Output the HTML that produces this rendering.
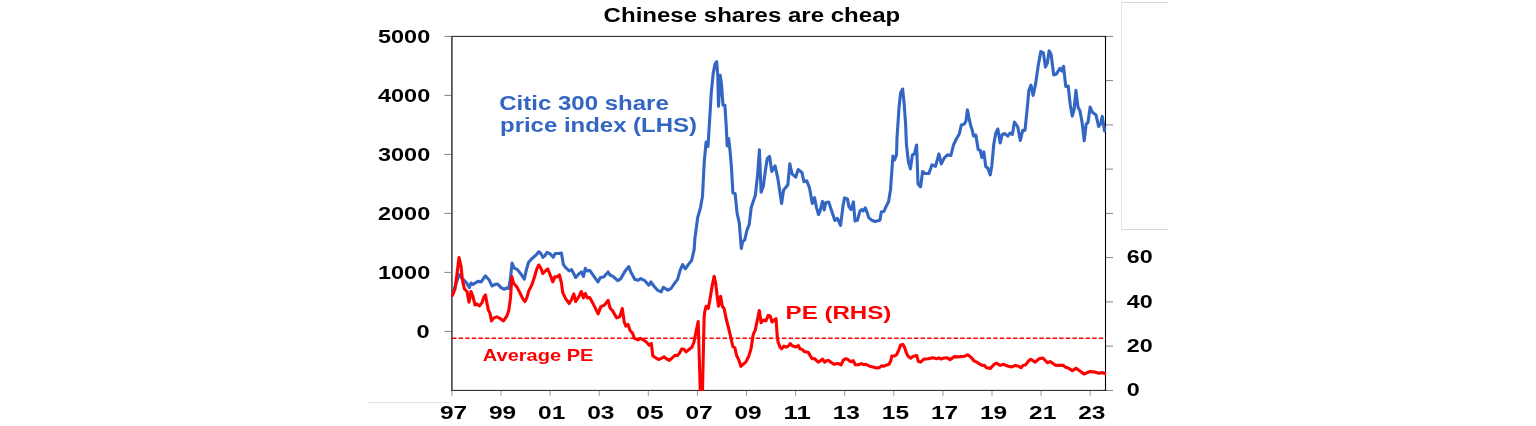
<!DOCTYPE html>
<html><head><meta charset="utf-8"><title>Chinese shares are cheap</title>
<style>
html,body{margin:0;padding:0;background:#fff;}
svg{display:block}
text{font-family:"Liberation Sans",Arial,sans-serif;font-weight:bold;}
</style></head><body>
<svg width="1536" height="426" viewBox="0 0 1536 426">
<rect width="1536" height="426" fill="#fff"/>
<g fill="none" stroke-width="1">
<path d="M1121.5 2.5V229.5" stroke="#e6e6e6"/>
<path d="M1121.5 2.5H1168M1121.5 229.5H1168" stroke="#d8d8d8"/>
<path d="M368 402.5H450" stroke="#e4e4e4"/>
</g>
<g stroke="#858585" stroke-width="1"><line x1="444.4" x2="452" y1="36.4" y2="36.4"/><line x1="444.4" x2="452" y1="95.4" y2="95.4"/><line x1="444.4" x2="452" y1="154.4" y2="154.4"/><line x1="444.4" x2="452" y1="213.4" y2="213.4"/><line x1="444.4" x2="452" y1="272.4" y2="272.4"/><line x1="444.4" x2="452" y1="331.4" y2="331.4"/><line x1="1106" x2="1113" y1="390.4" y2="390.4"/><line x1="1106" x2="1113" y1="346.1" y2="346.1"/><line x1="1106" x2="1113" y1="301.9" y2="301.9"/><line x1="1106" x2="1113" y1="257.6" y2="257.6"/><line x1="1106" x2="1113" y1="213.4" y2="213.4"/><line x1="1106" x2="1113" y1="169.1" y2="169.1"/><line x1="1106" x2="1113" y1="124.9" y2="124.9"/><line x1="1106" x2="1113" y1="80.6" y2="80.6"/><line x1="1106" x2="1113" y1="36.4" y2="36.4"/></g><g stroke="#9a9a9a" stroke-width="1"><line y1="390.8" y2="396.2" x1="451.9" x2="451.9"/><line y1="390.8" y2="396.2" x1="501.0" x2="501.0"/><line y1="390.8" y2="396.2" x1="550.1" x2="550.1"/><line y1="390.8" y2="396.2" x1="599.2" x2="599.2"/><line y1="390.8" y2="396.2" x1="648.3" x2="648.3"/><line y1="390.8" y2="396.2" x1="697.4" x2="697.4"/><line y1="390.8" y2="396.2" x1="746.5" x2="746.5"/><line y1="390.8" y2="396.2" x1="795.6" x2="795.6"/><line y1="390.8" y2="396.2" x1="844.7" x2="844.7"/><line y1="390.8" y2="396.2" x1="893.8" x2="893.8"/><line y1="390.8" y2="396.2" x1="942.9" x2="942.9"/><line y1="390.8" y2="396.2" x1="992.0" x2="992.0"/><line y1="390.8" y2="396.2" x1="1041.1" x2="1041.1"/><line y1="390.8" y2="396.2" x1="1090.2" x2="1090.2"/></g>
<g fill="none" stroke="#000"><path d="M451.2 36.4H1106" stroke-width="0.9"/><path d="M451.2 390.4H1106" stroke-width="0.9"/><path d="M1105.5 36V390.8" stroke-width="1.1"/><path d="M451.9 36V390.8" stroke="#444" stroke-width="1.6"/></g>
<g font-size="17.8" fill="#000"><text x="378.0" y="42.5" textLength="52.2" lengthAdjust="spacingAndGlyphs">5000</text><text x="378.0" y="101.5" textLength="52.2" lengthAdjust="spacingAndGlyphs">4000</text><text x="378.0" y="160.5" textLength="52.2" lengthAdjust="spacingAndGlyphs">3000</text><text x="378.0" y="219.5" textLength="52.2" lengthAdjust="spacingAndGlyphs">2000</text><text x="378.0" y="278.5" textLength="52.2" lengthAdjust="spacingAndGlyphs">1000</text><text x="416.6" y="337.5" textLength="13.1" lengthAdjust="spacingAndGlyphs">0</text><text x="439.9" y="418.8" textLength="27.2" lengthAdjust="spacingAndGlyphs">97</text><text x="489.0" y="418.8" textLength="27.2" lengthAdjust="spacingAndGlyphs">99</text><text x="538.1" y="418.8" textLength="27.2" lengthAdjust="spacingAndGlyphs">01</text><text x="587.2" y="418.8" textLength="27.2" lengthAdjust="spacingAndGlyphs">03</text><text x="636.3" y="418.8" textLength="27.2" lengthAdjust="spacingAndGlyphs">05</text><text x="685.4" y="418.8" textLength="27.2" lengthAdjust="spacingAndGlyphs">07</text><text x="734.5" y="418.8" textLength="27.2" lengthAdjust="spacingAndGlyphs">09</text><text x="783.6" y="418.8" textLength="27.2" lengthAdjust="spacingAndGlyphs">11</text><text x="832.7" y="418.8" textLength="27.2" lengthAdjust="spacingAndGlyphs">13</text><text x="881.8" y="418.8" textLength="27.2" lengthAdjust="spacingAndGlyphs">15</text><text x="930.9" y="418.8" textLength="27.2" lengthAdjust="spacingAndGlyphs">17</text><text x="980.0" y="418.8" textLength="27.2" lengthAdjust="spacingAndGlyphs">19</text><text x="1029.1" y="418.8" textLength="27.2" lengthAdjust="spacingAndGlyphs">21</text><text x="1078.2" y="418.8" textLength="27.2" lengthAdjust="spacingAndGlyphs">23</text><text x="1126.7" y="263.3" textLength="25.9" lengthAdjust="spacingAndGlyphs">60</text><text x="1126.7" y="307.6" textLength="25.9" lengthAdjust="spacingAndGlyphs">40</text><text x="1126.7" y="351.8" textLength="25.9" lengthAdjust="spacingAndGlyphs">20</text><text x="1126.7" y="396.1" textLength="13" lengthAdjust="spacingAndGlyphs">0</text></g>
<text x="603.6" y="21.5" font-size="19.4" textLength="296.6" lengthAdjust="spacingAndGlyphs">Chinese shares are cheap</text>
<clipPath id="c"><rect x="451" y="36" width="655" height="354.9"/></clipPath>
<line x1="452" x2="1106" y1="338.2" y2="338.2" stroke="#f00" stroke-width="1.4" stroke-dasharray="4.4 2.2"/>
<g clip-path="url(#c)" fill="none" stroke-linejoin="round" stroke-linecap="round">
<polyline stroke="#3366c2" stroke-width="3.1" points="452.5,294.2 455.8,284.4 459.0,274.5 462.3,278.6 466.4,282.7 469.4,287.6 471.0,283.0 473.0,284.4 477.9,281.4 481.2,281.9 485.3,275.8 489.4,280.3 491.9,286.0 495.2,284.4 497.7,284.0 501.0,287.6 504.2,289.3 506.7,288.0 508.8,288.6 510.5,277.8 512.1,263.0 514.1,267.9 517.4,269.6 520.7,273.7 524.3,279.1 526.4,269.6 528.6,262.2 532.2,258.4 536.3,254.8 538.8,251.8 540.9,253.5 542.9,257.3 545.0,255.6 547.0,252.3 550.3,254.0 553.2,257.3 555.2,253.5 558.5,253.5 561.4,253.1 563.4,264.6 565.9,267.9 569.2,270.9 571.6,269.6 575.7,277.5 579.0,273.7 581.5,272.0 583.5,276.5 585.3,268.3 587.2,270.9 589.7,270.4 593.8,276.1 597.9,281.9 600.4,277.5 603.7,277.0 608.1,272.0 610.3,275.3 612.7,276.1 617.7,280.7 620.9,278.6 625.0,271.2 628.8,266.6 630.8,272.0 634.9,279.4 638.2,280.3 640.7,278.6 644.8,280.7 648.9,285.2 650.9,281.9 653.8,286.0 657.4,290.1 661.2,291.8 663.3,287.3 667.8,290.1 671.1,288.5 674.4,283.5 677.6,279.4 680.1,270.4 682.6,264.6 685.4,268.8 688.3,264.6 691.6,260.5 694.1,249.9 694.9,238.6 697.7,217.5 700.5,207.6 702.5,196.3 704.2,162.5 706.1,142.0 708.0,146.5 709.6,120.4 711.3,92.3 713.2,73.5 715.0,64.1 716.7,61.7 717.8,75.8 718.5,106.3 720.2,75.4 721.6,85.2 723.0,105.2 724.9,105.2 726.3,127.5 727.2,146.0 728.6,138.5 730.1,151.3 731.5,168.2 732.9,193 735.1,193.5 737.1,213.2 739.3,223.1 741.3,248.5 742.7,241.4 744.7,240 747.0,230.1 749.2,224.5 751.2,207.6 754.0,199.2 755.4,194.9 757.7,173.8 759.4,149.9 761.1,192.1 763.3,186.5 765.3,171 767.3,158.3 769.5,156.3 771.8,171.5 775.1,165.9 778.0,179.4 779.9,192.1 781.6,203.4 783.6,190.1 787.8,185.1 789.8,163.9 792.0,173.8 795.7,177.2 798.2,169.6 801.9,172.4 803.9,181.7 806.7,180.8 809.5,187.9 812.3,203.4 814.6,197.7 816.5,207.6 818.5,214.6 820.2,210.4 822.5,201.4 824.2,209.9 825.8,202.5 828.7,202 831.5,210.4 834.9,220.5 837.4,218.3 840.6,225.4 843.0,205.9 844.6,197.9 847.4,198.9 849.0,206.9 851.0,209.5 853.4,201.9 855.0,220.9 857.4,220.3 860.0,210.9 861.9,209.5 863.3,210.9 865.3,207.9 866.9,211.9 868.9,217.9 871.9,220.3 874.9,221.5 879.9,220.3 881.3,211.9 883.9,211.5 885.9,206.9 888.5,201.9 890.5,189.9 891.9,170 892.9,156 894.5,160 896.5,155 897.0,137.9 899.0,107.9 900.6,93 902.6,89 904.0,102 905.6,123.9 906.4,144 908.4,161.9 910.4,168.9 912.4,154.9 914.4,153.9 916.6,145 918.0,183.9 920.6,186.9 922.6,171.5 925.0,173.5 928.9,173.5 931.9,164.9 935.5,166.3 938.9,153.9 941.3,163.9 944.3,157.9 947.5,154.9 950.9,155.5 953.5,145 956.3,139 959.3,134 961.3,125 964.3,124 966.0,120.9 967.4,109.9 969.2,118.9 970.8,125.9 971.9,129 973.5,136 975.8,135 978.2,149.5 980.2,150.3 981.8,157.5 983.8,151.9 985.8,166.9 987.8,167.9 990.2,174.9 991.8,165.9 993.8,144 995.8,133 997.8,129 1000.2,143 1002.2,134.4 1004.8,133.6 1007.8,136 1010.2,133 1012.4,134.4 1014.4,122 1017.8,127 1020.3,140.5 1022.7,130.4 1025.0,130.4 1027.1,109.7 1028.9,90.3 1031.0,85.2 1033.1,95.5 1035.6,83.9 1038.2,65.8 1040.8,51.6 1043.4,52.9 1045.4,67.1 1047.3,63.2 1049.1,50.8 1051.1,54.2 1053.7,74.9 1056.3,74.1 1059.9,68.4 1062.0,71 1063.5,66.3 1065.8,86.5 1068.2,86 1070.2,104.5 1072.3,116.2 1074.1,109.7 1075.9,90.3 1078.0,107.1 1080.0,111 1082.1,122.6 1084.2,140.7 1086.2,123.9 1088.0,122.6 1090.1,107.1 1092.4,112.3 1096.0,114.9 1098.6,126.5 1100.7,123.9 1102.2,116.2 1104.6,130.9"/>
<polyline stroke="#ff0000" stroke-width="3.1" points="452.4,295.5 455.0,288.9 457.0,274 459.0,257.6 461.0,266 462.4,279.9 464.4,288.9 467.0,291.5 469.0,302.3 471.0,291.5 473.0,296.9 475.0,304.9 476.9,303.9 479.5,305.9 481.9,302.9 483.9,296.9 485.5,294.9 486.9,302.9 488.3,309.9 489.9,312.9 491.5,320.9 493.9,317.9 496.9,316.9 499.9,318.3 503.5,320.9 506.9,315.9 508.9,309.9 510.5,297.9 511.9,276.9 513.5,282.9 516.9,286.9 519.9,292.9 522.9,298.9 524.9,301.5 526.8,297.9 528.8,290.9 531.8,284.9 534.8,275.9 536.8,269 538.8,265 540.8,268 542.8,273.6 545.4,271 547.8,269 549.8,274 552.8,281.9 554.8,276.9 556.8,276.9 559.4,275 561.4,282.9 562.8,292.9 565.8,298.9 569.2,303.5 571.8,298.9 573.8,293.9 575.7,301.5 578.7,296.9 581.3,291.5 583.3,297.9 585.3,293.5 587.3,297.9 589.7,297.5 592.7,302.9 595.7,308.9 598.1,313.9 600.7,306.9 604.7,304.9 608.1,300.3 610.1,307.9 612.7,310.9 616.7,317.9 619.7,316.9 622.3,308.5 624.2,321.9 625.9,326.1 628.0,324.5 630.1,330.4 632.7,333.5 634.4,338.4 638.0,339.9 640.5,338.4 643.3,339.9 646.4,342 649.2,345.2 651.3,343.5 652.8,355.7 655.9,357.9 658.5,359.5 661.2,358.3 664.0,356.8 666.5,358.9 669.3,360.4 672.2,357.9 675.0,355.3 677.5,355.7 679.8,352.6 681.7,349 684.1,349.4 686.0,351.9 688.7,349.8 691.9,347.3 694.0,342 696.1,331.4 698.2,321.5 700.4,395 702.4,395 704.1,317.7 704.7,311.8 706.1,306.3 708.3,308.5 710.1,298.5 712.3,285.1 714.1,276.2 715.6,282.8 717.2,296.2 718.5,306.3 720.6,296.2 722.3,306.3 724.1,308.5 726.1,318.5 728.4,327.4 730.6,336.4 732.8,346.5 734.9,347.8 736.6,355.5 739.0,360.4 740.9,366.3 743.7,363.8 745.8,362.1 749.0,355.7 751.1,348.3 753.2,334.6 755.3,329.9 757.4,319.8 759.3,310.5 761.1,322.8 763.7,320 765.9,320.9 768.2,315.4 770.2,316 772.0,322 773.8,320.5 776.0,318.6 777.2,336 778.1,341.9 780.0,347.2 781.7,348.8 783.9,346.1 786.1,347.2 788.3,346.1 790.2,343.6 792.2,345.8 796.0,347 798.3,345.5 799.9,348.8 802.1,349.4 804.3,351.6 808.2,352.2 810.4,356 812.1,358.8 814.3,358.5 818.2,362.1 820.4,360.7 822.6,359.1 824.6,362.1 827.0,360.5 828.7,360.5 831.5,362.7 834.2,364.3 837.0,363.6 839.2,363.8 841.1,364.9 843.1,360.5 845.3,358.8 847.5,359.1 849.7,361 851.4,361.8 853.3,360.7 855.3,364.7 858.6,364.7 861.4,363.6 863.6,364.7 865.8,364.3 869.7,366.2 873.0,366.9 876.3,367.9 879.1,367.7 881.8,365.8 884.0,366.2 886.8,364.9 889.0,364.3 890.7,361 891.8,356 894.6,356 896.8,354.4 899.0,349.4 900.6,345 902.9,344.4 904.5,347.2 906.7,353.8 908.4,356.6 910.6,358.2 912.8,356.6 916.7,355.5 918.4,361.6 920.6,362.1 923.9,359.1 928.3,358.8 932.7,357.7 937.2,358.8 939.0,357.7 941.0,359.1 943.9,358 947.2,357.7 950.0,359.6 954.4,356.6 958.3,356.9 964.3,356.3 967.7,354.7 971.5,357.7 973.8,360.7 977.6,362.7 981.5,365.1 984.3,365.4 986.5,367.7 990.4,368.4 993.7,364.7 996.4,363.2 1000.3,365.4 1003.6,364.3 1007.5,366 1011.9,366.9 1015.3,365.4 1018.6,366.2 1021.0,367.7 1023.0,365.4 1025.8,364.7 1028.5,361 1030.8,359.3 1035.2,362.1 1039.1,358.8 1042.9,358 1047.4,362.7 1050.1,361.6 1055.1,365.1 1059.5,365.4 1063.4,365.4 1065.6,367.3 1067.8,367.7 1072.3,370.6 1076.1,368.2 1080.0,371 1083.9,374 1090.0,371.5 1095.0,372.1 1098.8,373.2 1102.7,372.6 1105.5,373.7"/>
</g>
<g fill="#3366c2" font-size="19.5">
<text x="499.2" y="109.6" textLength="169.6" lengthAdjust="spacingAndGlyphs">Citic 300 share</text>
<text x="500" y="132.2" textLength="197" lengthAdjust="spacingAndGlyphs">price index (LHS)</text>
</g>
<g fill="#ff0000">
<text x="785.6" y="318.8" font-size="19.1" textLength="105.8" lengthAdjust="spacingAndGlyphs">PE (RHS)</text>
<text x="482.8" y="360.8" font-size="16.2" textLength="110.6" lengthAdjust="spacingAndGlyphs">Average PE</text>
</g>
</svg>
</body></html>
